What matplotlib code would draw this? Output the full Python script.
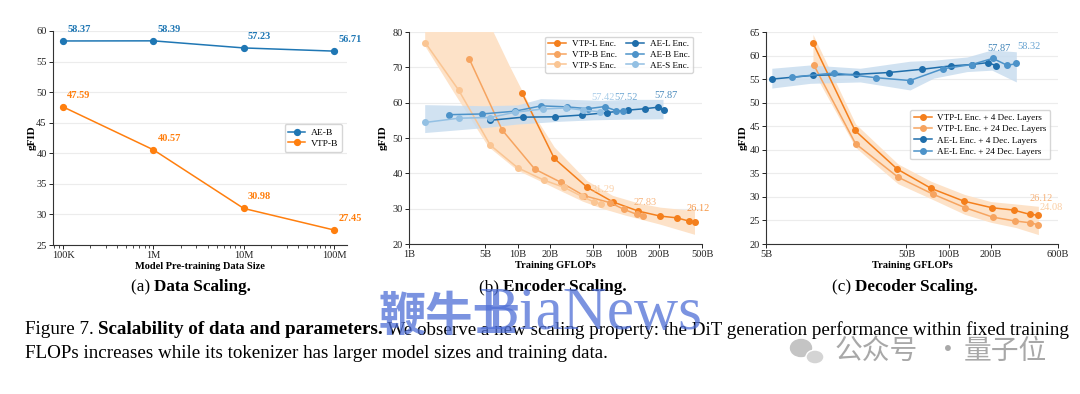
import numpy as np
import matplotlib
matplotlib.use('Agg')
import matplotlib.pyplot as plt
from matplotlib.ticker import FixedLocator, FixedFormatter, NullLocator, LogLocator, NullFormatter
from matplotlib.patches import Ellipse

plt.rcParams['font.family'] = ['Liberation Serif', 'DejaVu Serif']

# ---------------- data ----------------
# (a) data scaling
a_sizes = [1e5, 1e6, 1e7, 1e8]
a_xticklabels = ['100K', '1M', '10M', '100M']
a_ae = [58.37, 58.39, 57.23, 56.71]
a_vtp = [47.59, 40.57, 30.98, 27.45]

# (b) encoder scaling (x in GFLOPs, unit B)
b_vtpl_x = [11.0, 21.8, 43.9, 75.7, 130, 206, 294, 377, 431]
b_vtpl_y = [62.7, 44.2, 36.0, 31.9, 29.3, 27.9, 27.4, 26.5, 26.12]
b_vtpb_x = [3.6, 7.2, 14.4, 24.9, 40.8, 71, 95.7, 125, 142]
b_vtpb_y = [72.3, 52.3, 41.2, 37.5, 33.7, 31.7, 29.8, 28.4, 27.83]
b_vtps_x = [1.41, 2.86, 5.6, 10.0, 17.4, 27, 39, 50.5, 58.3]
b_vtps_y = [77.0, 63.6, 48.0, 41.6, 38.1, 36.0, 33.5, 31.9, 31.29]
b_ael_x = [5.6, 11.2, 22, 38.9, 67, 105, 150, 195, 221]
b_ael_y = [55.0, 55.9, 56.0, 56.5, 57.2, 57.9, 58.3, 58.7, 57.87]
b_aeb_x = [2.36, 4.7, 9.55, 16.5, 28.7, 44.5, 63.4, 81.4, 93.7]
b_aeb_y = [56.6, 56.8, 57.6, 59.1, 58.8, 58.3, 58.9, 57.7, 57.52]
b_aes_x = [1.41, 2.86, 5.6, 9.5, 17, 28, 40, 58]
b_aes_y = [54.4, 55.6, 55.8, 57.3, 58.2, 58.5, 57.9, 57.42]
b_oband_up_x = [1.41, 3.6, 6.0, 8.4, 11, 15.6, 22, 44, 76, 130, 206, 431]
b_oband_up_y = [95, 90, 80, 70.6, 63.5, 54.6, 47.3, 37.8, 33.6, 31.5, 30.3, 29.3]
b_oband_lo_x = [1.41, 2.57, 5.4, 10, 17.4, 24.9, 40, 60, 100, 206, 431]
b_oband_lo_y = [76, 63.1, 47.5, 40.8, 37.3, 35.0, 32.0, 30.0, 28.0, 25.5, 22.6]
b_bband_up_x = [1.41, 5, 10, 16.5, 30, 60, 100, 221]
b_bband_up_y = [59.3, 59.0, 59.2, 61.0, 60.8, 60.5, 60.8, 60.8]
b_bband_lo_x = [1.41, 5, 10, 25, 50, 100, 221]
b_bband_lo_y = [51.4, 52.8, 53.8, 54.6, 55.0, 55.2, 55.3]
b_xticks = [1, 5, 10, 20, 50, 100, 200, 500]
b_xticklabels = ['1B', '5B', '10B', '20B', '50B', '100B', '200B', '500B']

# (c) decoder scaling
c_vtp4_x = [10.8, 21.5, 43, 75, 128, 203, 290, 377, 432]
c_vtp4_y = [62.7, 44.1, 35.9, 31.8, 29.1, 27.7, 27.2, 26.3, 26.12]
c_vtp24_x = [10.9, 21.7, 43.5, 77, 131, 206, 295, 380, 435]
c_vtp24_y = [58.1, 41.3, 34.2, 30.6, 27.7, 25.7, 24.9, 24.5, 24.08]
c_ae4_x = [5.5, 10.8, 21.7, 37.5, 65, 103, 146, 190, 217]
c_ae4_y = [55.0, 55.8, 56.0, 56.4, 57.1, 57.8, 58.1, 58.5, 57.87]
c_ae24_x = [7.6, 15.3, 30.3, 53, 90.8, 146, 206, 262, 303]
c_ae24_y = [55.4, 56.3, 55.3, 54.7, 57.2, 58.1, 59.4, 57.9, 58.32]
c_oband_x = [10.8, 21.7, 43.5, 75, 130, 200, 300, 435]
c_oband_up = [64.5, 45.5, 37.0, 33.3, 30.5, 29.0, 28.5, 28.0]
c_oband_lo = [56.8, 40.5, 32.8, 29.6, 26.3, 24.6, 23.5, 22.0]
c_bband_x = [5.5, 10.3, 23.4, 53, 78, 135, 203, 303]
c_bband_up = [57.3, 58.0, 57.3, 58.8, 59.0, 59.7, 61.2, 60.8]
c_bband_lo = [53.1, 54.1, 54.4, 52.7, 55.2, 56.6, 56.9, 54.4]
c_xticks = [5, 50, 100, 200, 600]
c_xticklabels = ['5B', '50B', '100B', '200B', '600B']

# ---------------- styling ----------------
BLUE = '#1f77b4'
ORANGE = '#ff7f0e'
AE_L, AE_B, AE_S = '#1f6eab', '#4d93c9', '#93c0e3'
VTP_L, VTP_B, VTP_S = '#f47f1c', '#f6a460', '#fac593'
OBAND, BBAND = '#fde2c8', '#c9ddef'

W, H = 1080, 394
fig = plt.figure(figsize=(W / 100, H / 100), dpi=100)


def ax_at(l, r, t, b):
    return fig.add_axes([l / W, 1 - b / H, (r - l) / W, (b - t) / H])


def style(ax, ylab_x):
    for s in ['top', 'right']:
        ax.spines[s].set_visible(False)
    for s in ['left', 'bottom']:
        ax.spines[s].set_color('#333333')
        ax.spines[s].set_linewidth(0.8)
    ax.grid(axis='y', color='#ececec', lw=0.8)
    ax.set_axisbelow(True)
    ax.tick_params(axis='both', which='major', labelsize=7.5, length=3, width=0.7, pad=1.5, colors='#222222')
    ax.tick_params(axis='x', which='minor', length=1.8, width=0.5)
    ax.set_ylabel('gFID', fontsize=8, fontweight='bold')
    ax.yaxis.set_label_coords(ylab_x, 0.5)


LEG = dict(frameon=True, edgecolor='#cccccc', fancybox=True)

# ---------- (a) ----------
ax = ax_at(53, 347, 31, 245)
ax.set_xscale('log')
ax.plot(a_sizes, a_ae, '-o', color=BLUE, lw=1.1, ms=4.2, label='AE-B')
ax.plot(a_sizes, a_vtp, '-o', color=ORANGE, lw=1.1, ms=4.2, label='VTP-B')
for x, y in zip(a_sizes, a_ae):
    ax.annotate(f'{y:.2f}', (x, y), xytext=(3, 5), textcoords='offset points',
                color=BLUE, fontsize=7.5, fontweight='bold', ha='left', va='bottom')
for x, y in zip(a_sizes, a_vtp):
    ax.annotate(f'{y:.2f}', (x, y), xytext=(3, 5), textcoords='offset points',
                color=ORANGE, fontsize=7.5, fontweight='bold', ha='left', va='bottom')
ax.set_xlim(7.74e4, 1.39e8)
ax.set_ylim(25, 60)
ax.set_yticks([25, 30, 35, 40, 45, 50, 55, 60])
ax.xaxis.set_major_locator(FixedLocator(a_sizes))
ax.xaxis.set_major_formatter(FixedFormatter(a_xticklabels))
ax.xaxis.set_minor_locator(LogLocator(base=10, subs=np.arange(2, 10)))
ax.xaxis.set_minor_formatter(NullFormatter())
style(ax, -0.055)
ax.set_xlabel('Model Pre-training Data Size', fontsize=7.5, fontweight='bold', labelpad=1)
ax.legend(loc='center right', bbox_to_anchor=(1.0, 0.5), fontsize=6.8, handlelength=1.8,
          borderpad=0.4, labelspacing=0.25, handletextpad=0.6, **LEG)

# ---------- (b) ----------
ax = ax_at(409, 702, 32, 244)
ax.set_xscale('log')
ax.fill(np.r_[b_oband_up_x, b_oband_lo_x[::-1]], np.r_[b_oband_up_y, b_oband_lo_y[::-1]],
        color=OBAND, lw=0, zorder=1)
ax.fill(np.r_[b_bband_up_x, b_bband_lo_x[::-1]], np.r_[b_bband_up_y, b_bband_lo_y[::-1]],
        color=BBAND, lw=0, alpha=0.85, zorder=1)
ax.plot(b_vtpl_x, b_vtpl_y, '-o', color=VTP_L, lw=1.1, ms=4, label='VTP-L Enc.', zorder=3)
ax.plot(b_vtpb_x, b_vtpb_y, '-o', color=VTP_B, lw=1.1, ms=4, label='VTP-B Enc.', zorder=3)
ax.plot(b_vtps_x, b_vtps_y, '-o', color=VTP_S, lw=1.1, ms=4, label='VTP-S Enc.', zorder=3)
ax.plot(b_ael_x, b_ael_y, '-o', color=AE_L, lw=1.1, ms=4, label='AE-L Enc.', zorder=3)
ax.plot(b_aeb_x, b_aeb_y, '-o', color=AE_B, lw=1.1, ms=4, label='AE-B Enc.', zorder=3)
ax.plot(b_aes_x, b_aes_y, '-o', color=AE_S, lw=1.1, ms=4, label='AE-S Enc.', zorder=3)
for xs, ys, c in [(b_vtpl_x, b_vtpl_y, VTP_L), (b_vtpb_x, b_vtpb_y, VTP_B), (b_vtps_x, b_vtps_y, VTP_S),
                  (b_ael_x, b_ael_y, AE_L), (b_aeb_x, b_aeb_y, AE_B), (b_aes_x, b_aes_y, AE_S)]:
    ax.annotate(f'{ys[-1]:.2f}', (xs[-1], ys[-1]), xytext=(2, 7), textcoords='offset points',
                color=c, alpha=0.8, fontsize=7.5, ha='center', va='bottom', zorder=4)
ax.set_xlim(1, 500)
ax.set_ylim(20, 80)
ax.set_yticks([20, 30, 40, 50, 60, 70, 80])
ax.xaxis.set_major_locator(FixedLocator(b_xticks))
ax.xaxis.set_major_formatter(FixedFormatter(b_xticklabels))
ax.xaxis.set_minor_locator(NullLocator())
style(ax, -0.072)
ax.set_xlabel('Training GFLOPs', fontsize=7.5, fontweight='bold', labelpad=1)
ax.legend(loc='upper right', bbox_to_anchor=(0.985, 1.0), ncol=2, fontsize=6.6,
          handlelength=2.0, columnspacing=1.0, handletextpad=0.6,
          borderpad=0.35, labelspacing=0.25, **LEG)

# ---------- (c) ----------
ax = ax_at(766, 1058, 32, 244)
ax.set_xscale('log')
ax.fill_between(c_oband_x, c_oband_lo, c_oband_up, color=OBAND, lw=0, zorder=1)
ax.fill_between(c_bband_x, c_bband_lo, c_bband_up, color=BBAND, lw=0, alpha=0.85, zorder=1)
ax.plot(c_vtp4_x, c_vtp4_y, '-o', color=VTP_L, lw=1.1, ms=4, label='VTP-L Enc. + 4 Dec. Layers', zorder=3)
ax.plot(c_vtp24_x, c_vtp24_y, '-o', color=VTP_B, lw=1.1, ms=4, label='VTP-L Enc. + 24 Dec. Layers', zorder=3)
ax.plot(c_ae4_x, c_ae4_y, '-o', color=AE_L, lw=1.1, ms=4, label='AE-L Enc. + 4 Dec. Layers', zorder=3)
ax.plot(c_ae24_x, c_ae24_y, '-o', color=AE_B, lw=1.1, ms=4, label='AE-L Enc. + 24 Dec. Layers', zorder=3)
for xs, ys, c, dx in [(c_vtp4_x, c_vtp4_y, VTP_B, 2), (c_vtp24_x, c_vtp24_y, VTP_S, 9),
                      (c_ae4_x, c_ae4_y, AE_L, 2), (c_ae24_x, c_ae24_y, AE_B, 9)]:
    ax.annotate(f'{ys[-1]:.2f}', (xs[-1], ys[-1]), xytext=(dx, 9), textcoords='offset points',
                color=c, alpha=0.85, fontsize=7.5, ha='center', va='bottom', zorder=4)
ax.set_xlim(5, 600)
ax.set_ylim(20, 65)
ax.set_yticks([20, 25, 30, 35, 40, 45, 50, 55, 60, 65])
ax.xaxis.set_major_locator(FixedLocator(c_xticks))
ax.xaxis.set_major_formatter(FixedFormatter(c_xticklabels))
ax.xaxis.set_minor_locator(NullLocator())
style(ax, -0.062)
ax.set_xlabel('Training GFLOPs', fontsize=7.5, fontweight='bold', labelpad=1)
ax.legend(loc='center right', bbox_to_anchor=(0.99, 0.515), fontsize=6.6, handlelength=2.0,
          handletextpad=0.6, borderpad=0.4, labelspacing=0.3, **LEG)

# ---------------- captions ----------------
fig.canvas.draw()
renderer = fig.canvas.get_renderer()


def mixed(x_px, y_px, parts, size, align='left', target=None):
    """parts: list of (text, weight); optionally scale font to reach a target width in px"""
    objs = []
    for txt, wt in parts:
        objs.append(fig.text(0, 0, txt, fontsize=size, fontweight=wt, va='center', ha='left'))
    widths = [t.get_window_extent(renderer).width for t in objs]
    if target is not None:
        f = target / sum(widths)
        for t in objs:
            t.set_fontsize(size * f)
        widths = [t.get_window_extent(renderer).width for t in objs]
    total = sum(widths)
    x = x_px - (total / 2 if align == 'center' else 0)
    for t, w in zip(objs, widths):
        t.set_position((x / W, 1 - y_px / H))
        x += w
    return objs[0].get_fontsize()


sub_size = 12.3
mixed(191, 287, [('(a) ', 'normal'), ('Data Scaling.', 'bold')], sub_size, 'center')
mixed(553, 287, [('(b) ', 'normal'), ('Encoder Scaling.', 'bold')], sub_size, 'center')
mixed(905, 287, [('(c) ', 'normal'), ('Decoder Scaling.', 'bold')], sub_size, 'center')

cs = mixed(25, 330, [('Figure 7. ', 'normal'), ('Scalability of data and parameters.', 'bold'),
                     (' We observe a new scaling property: the DiT generation performance within fixed training',
                      'normal')], 12, target=1043)
mixed(25, 353, [('FLOPs increases while its tokenizer has larger model sizes and training data.', 'normal')], cs)

# watermark overlays
fig.text(379 / W, 1 - 317 / H, '鞭牛士', fontsize=34, color='#4f6fd6', alpha=0.75,
         family=['Noto Sans CJK SC', 'DejaVu Sans'], va='center', ha='left', fontweight='bold')
fig.text(478 / W, 1 - 314 / H, 'BiaNews', fontsize=44, color='#4f6fd6', alpha=0.75,
         va='center', ha='left')
fig.patches.append(Ellipse((801 / W, 1 - 348 / H), 21 / W, 17 / H, transform=fig.transFigure,
                           color='#c4c4c4', zorder=5))
fig.patches.append(Ellipse((815 / W, 1 - 357 / H), 18 / W, 14 / H, transform=fig.transFigure,
                           fc='#d4d4d4', ec='white', lw=1, zorder=6))
WM = dict(fontsize=20, color='#a8a8a8', family=['Noto Sans CJK SC', 'DejaVu Sans'], va='center')
fig.text(835 / W, 1 - 351 / H, '公众号', ha='left', **WM)
fig.text(948 / W, 1 - 351 / H, '·', ha='center', **WM)
fig.text(964 / W, 1 - 351 / H, '量子位', ha='left', **WM)

fig.savefig('out.png', dpi=100)
